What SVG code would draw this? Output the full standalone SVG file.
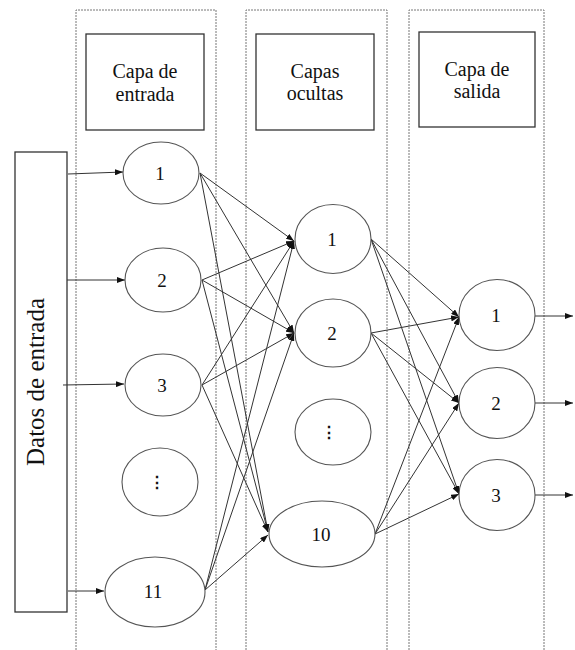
<svg xmlns="http://www.w3.org/2000/svg" width="575" height="650" viewBox="0 0 575 650">
<style>
.col{fill:none;stroke:#777;stroke-width:1;stroke-dasharray:2 1}
.box{fill:#fff;stroke:#333;stroke-width:1.3}
.nd{fill:#fff;stroke:#555;stroke-width:1.1}
.t{font-family:"Liberation Serif","Times New Roman",serif;fill:#111;text-anchor:middle}
.ht{font-size:20px}
.nt{font-size:19px}
.el{font-family:"DejaVu Serif","Liberation Serif",serif;font-size:16px;font-weight:bold}
.c line{stroke:#333;stroke-width:1;marker-end:url(#ah)}
</style>
<defs>
<marker id="ah" markerUnits="userSpaceOnUse" markerWidth="8" markerHeight="6" refX="8" refY="3" orient="auto">
<path d="M0,0 L8,3 L0,6 z" fill="#111"/>
</marker>
</defs>
<rect width="575" height="650" fill="#fff"/>
<g id="columns">
<path class="col" d="M76,650 V10 H216 V650"/>
<path class="col" d="M246,650 V10 H387 V650"/>
<path class="col" d="M409,650 V10 H544 V650"/>
</g>
<g id="hdr-input"><rect class="box" x="86" y="34" width="118" height="96"/><text class="t ht" x="145" y="78">Capa de</text><text class="t ht" x="145" y="101">entrada</text></g>
<g id="hdr-hidden"><rect class="box" x="256" y="34" width="118" height="96"/><text class="t ht" x="315" y="78">Capas</text><text class="t ht" x="315" y="100">ocultas</text></g>
<g id="hdr-output"><rect class="box" x="419" y="32" width="116" height="95"/><text class="t ht" x="477" y="76">Capa de</text><text class="t ht" x="477" y="98">salida</text></g>
<g id="datos"><rect class="box" x="15" y="152" width="52" height="460"/><text class="t" style="font-size:25px" transform="translate(44,382) rotate(-90)">Datos de entrada</text></g>
<g class="c" id="connectors">
<line x1="68" y1="174" x2="123" y2="172"/>
<line x1="67" y1="280" x2="125" y2="280"/>
<line x1="63" y1="385" x2="124" y2="384"/>
<line x1="68" y1="591" x2="104" y2="591"/>
<line x1="200" y1="173" x2="294" y2="241"/>
<line x1="200" y1="173" x2="294" y2="333"/>
<line x1="200" y1="173" x2="268" y2="532"/>
<line x1="202" y1="280" x2="294" y2="241"/>
<line x1="202" y1="280" x2="294" y2="333"/>
<line x1="202" y1="280" x2="268" y2="532"/>
<line x1="202" y1="385" x2="294" y2="241"/>
<line x1="202" y1="385" x2="294" y2="333"/>
<line x1="202" y1="385" x2="268" y2="532"/>
<line x1="205" y1="590" x2="294" y2="241"/>
<line x1="205" y1="590" x2="294" y2="333"/>
<line x1="205" y1="590" x2="268" y2="535"/>
<line x1="371" y1="239" x2="459" y2="317"/>
<line x1="371" y1="239" x2="459" y2="403"/>
<line x1="371" y1="239" x2="459" y2="494"/>
<line x1="371" y1="333" x2="459" y2="317"/>
<line x1="371" y1="333" x2="459" y2="403"/>
<line x1="371" y1="333" x2="459" y2="494"/>
<line x1="375" y1="534" x2="459" y2="317"/>
<line x1="375" y1="534" x2="459" y2="403"/>
<line x1="375" y1="534" x2="459" y2="494"/>
<line x1="535" y1="316" x2="573" y2="316"/>
<line x1="535" y1="403" x2="573" y2="403"/>
<line x1="535" y1="495" x2="573" y2="495"/>
</g>
<g id="in1"><ellipse class="nd" cx="161" cy="173" rx="38" ry="31"/><text class="t nt" x="160" y="180">1</text></g>
<g id="in2"><ellipse class="nd" cx="163" cy="280" rx="38" ry="32"/><text class="t nt" x="162" y="287">2</text></g>
<g id="in3"><ellipse class="nd" cx="163" cy="385" rx="38" ry="31"/><text class="t nt" x="162" y="392">3</text></g>
<g id="in-dots"><ellipse class="nd" cx="160" cy="482" rx="38" ry="34"/><text class="t el" x="157" y="488">⋮</text></g>
<g id="in11"><ellipse class="nd" cx="155" cy="592" rx="50" ry="35"/><text class="t nt" x="153" y="598">11</text></g>
<g id="h1"><ellipse class="nd" cx="333" cy="239" rx="38" ry="34.5"/><text class="t nt" x="332" y="246">1</text></g>
<g id="h2"><ellipse class="nd" cx="333" cy="333" rx="38" ry="34"/><text class="t nt" x="332" y="340">2</text></g>
<g id="h-dots"><ellipse class="nd" cx="333" cy="432" rx="38" ry="33"/><text class="t el" x="329" y="438">⋮</text></g>
<g id="h10"><ellipse class="nd" cx="322" cy="534" rx="53" ry="33"/><text class="t nt" x="321" y="541">10</text></g>
<g id="o1"><ellipse class="nd" cx="497" cy="315" rx="38" ry="35.5"/><text class="t nt" x="496" y="322">1</text></g>
<g id="o2"><ellipse class="nd" cx="497" cy="403" rx="38" ry="35.5"/><text class="t nt" x="496" y="410">2</text></g>
<g id="o3"><ellipse class="nd" cx="497" cy="495" rx="38" ry="35.5"/><text class="t nt" x="496" y="502">3</text></g>
</svg>
